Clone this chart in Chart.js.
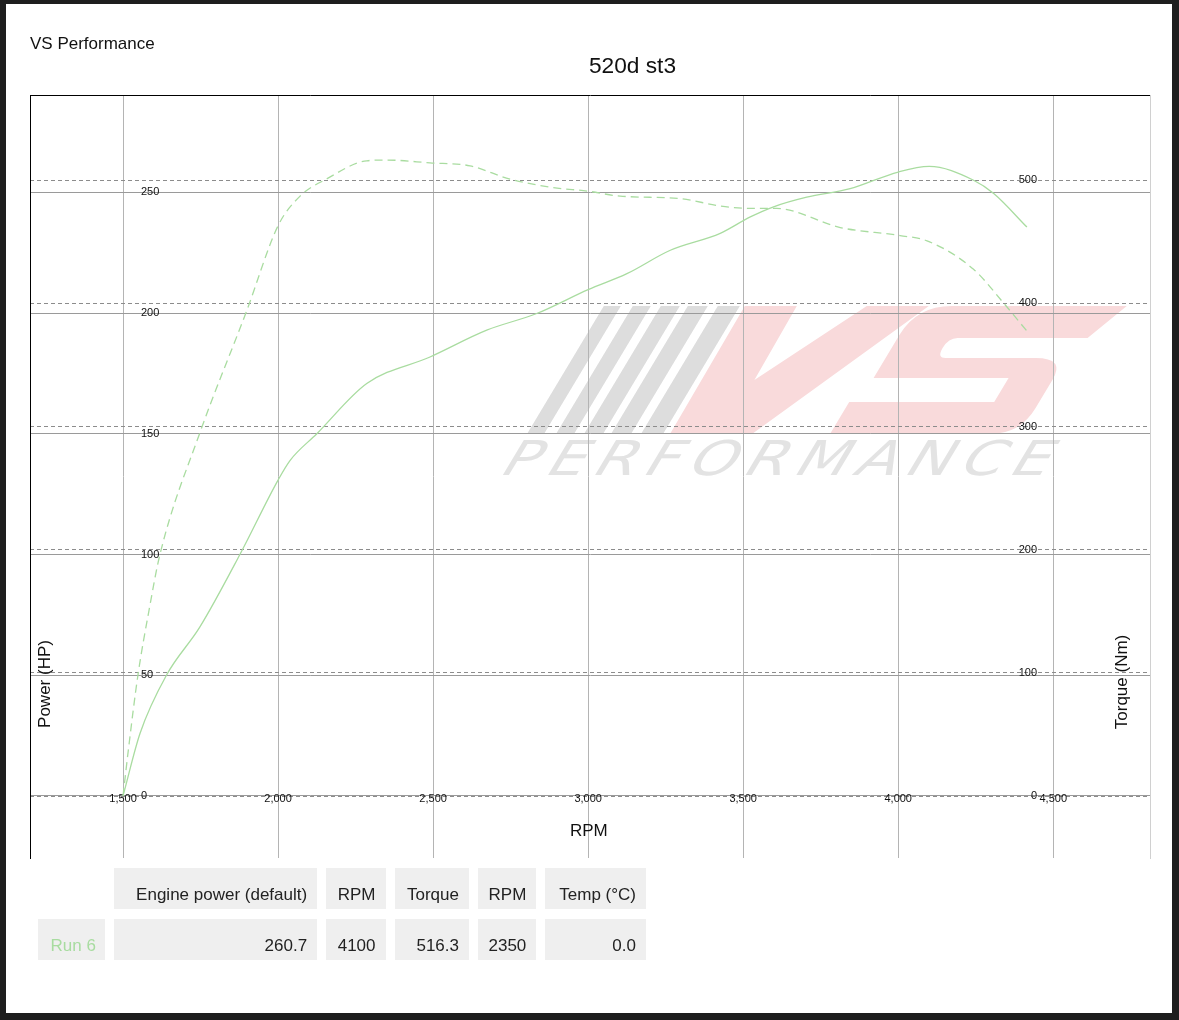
<!DOCTYPE html>
<html lang="en">
<head>
  <meta charset="UTF-8" />
  <title>520d st3 - VS Performance</title>
  <script src="https://cdn.jsdelivr.net/npm/chart.js"></script>
  <style>
    html, body {
      margin: 0;
      padding: 0;
      width: 1179px;
      height: 1020px;
      background-color: #1e1e1e;
      overflow: hidden;
      font-family: 'Liberation Sans', Arial, sans-serif;
      color: #111;
    }

    #page {
      position: absolute;
      left: 6px;
      top: 4px;
      width: 1166px;
      height: 1009px;
      background: #fff;
    }

    #chartBox {
      position: absolute;
      left: 0;
      top: 0;
      width: 1179px;
      height: 870px;
    }

    .txt {
      position: absolute;
      font-size: 17px;
      line-height: 20px;
      white-space: nowrap;
    }

    #brand { left: 30px; top: 33.5px; }
    #title { left: 589px; top: 51.6px; font-size: 22.7px; line-height: 26px; }
    #xTitle { left: 570px; top: 820.5px; }
    .vtitle { width: 120px; height: 20px; text-align: center; transform: rotate(-90deg); }
    #yTitle { left: -14.7px; top: 673.5px; }
    #y1Title { left: 1061.5px; top: 672px; }

    table {
      position: absolute;
      left: 28.5px;
      top: 858px;
      border-collapse: separate;
      border-spacing: 9.5px 10px;
      table-layout: fixed;
      width: 626.5px;
      font-size: 17px;
      color: #222;
    }

    td {
      background: #efefef;
      text-align: right;
      padding: 17px 10px 4px 10px;
      line-height: 20px;
      white-space: nowrap;
    }

    td.blank { background: transparent; }
    td.run { color: #a8dca0; padding-right: 9px; }
  </style>
</head>
<body>

  <div id="page"></div>

  <div id="chartBox">
    <canvas id="dynoChart"></canvas>
  </div>

  <div class="txt" id="brand">VS Performance</div>
  <div class="txt" id="title">520d st3</div>
  <div class="txt" id="xTitle">RPM</div>
  <div class="txt vtitle" id="yTitle">Power (HP)</div>
  <div class="txt vtitle" id="y1Title">Torque (Nm)</div>

  <table>
    <tr>
      <td class="blank" style="width:47px"></td>
      <td style="width:182px">Engine power (default)</td>
      <td style="width:39px">RPM</td>
      <td style="width:54px">Torque</td>
      <td style="width:38px">RPM</td>
      <td style="width:80px">Temp (°C)</td>
    </tr>
    <tr>
      <td class="run">Run 6</td>
      <td>260.7</td>
      <td>4100</td>
      <td>516.3</td>
      <td>2350</td>
      <td>0.0</td>
    </tr>
  </table>

  <script>
    // tick positions
    const rpmTicks = [1500, 2000, 2500, 3000, 3500, 4000, 4500];
    const powerTicks = [0, 50, 100, 150, 200, 250];
    const torqueTicks = [0, 100, 200, 300, 400, 500];

    // Run 6 - engine power (HP), solid line
    const powerRpm = [1500, 1555, 1640, 1748, 1877, 2000, 2039, 2125, 2286, 2490, 2673, 2834,
                      3000, 3125, 3265, 3426, 3523, 3598, 3705, 3845, 4000, 4100, 4243, 4308, 4415];
    const powerHp = [0, 26, 50, 70, 100, 130.8, 139, 150, 170.8, 181.8, 192.9, 199.8,
                     209.7, 216.3, 226, 233, 239.8, 244, 248, 251.5, 258.4, 260.7, 255, 249.5, 235.6];

    // Run 6 - torque (Nm), dashed line
    const torqueRpm = [1500, 1517, 1548, 1584, 1619, 1748, 1899, 2000, 2071, 2157, 2286, 2350,
                       2490, 2619, 2748, 2887, 3000, 3103, 3297, 3426, 3523, 3608, 3813, 4006, 4093,
                       4243, 4339, 4415];
    const torqueNm = [0, 37, 98, 151, 196, 295, 394, 463, 487, 501, 515.7, 516.3,
                      514, 511.6, 500.8, 494, 491, 487, 485, 479, 477, 477, 461.5, 455, 450.7,
                      427.6, 400.5, 377.5];

    const lineGreen = '#a9dca0';

    Chart.defaults.font.family = "'Liberation Sans', Arial, sans-serif";
    Chart.defaults.font.size = 11;
    Chart.defaults.color = '#111';

    // faint company logo behind the grid
    const watermark = {
      id: 'watermark',
      beforeDraw(chart) {
        const ctx = chart.ctx;
        const k = 0.6; // slant
        ctx.save();

        // stripes + VS, slanted around the logo baseline
        ctx.setTransform(1, 0, -k, 1, k * 434, 0);
        ctx.fillStyle = '#dddddd';
        [[527, 17], [556, 18], [584, 19], [611, 20], [641, 22]].forEach(([u, w]) => {
          ctx.fillRect(u, 306, w, 128);
        });

        ctx.fillStyle = '#f9dadb';
        ctx.beginPath();
        ctx.moveTo(670, 434);
        ctx.lineTo(668, 306);
        ctx.lineTo(720, 306);
        ctx.lineTo(722, 380);
        ctx.lineTo(790, 306);
        ctx.lineTo(852, 306);
        ctx.lineTo(752, 434);
        ctx.closePath();
        ctx.fill();

        ctx.beginPath();
        ctx.moveTo(1050, 306);
        ctx.lineTo(875, 306);
        ctx.quadraticCurveTo(840, 306, 840, 335);
        ctx.lineTo(840, 378);
        ctx.lineTo(975, 378);
        ctx.lineTo(975, 402);
        ctx.lineTo(830, 402);
        ctx.lineTo(830, 434);
        ctx.lineTo(990, 434);
        ctx.quadraticCurveTo(1020, 434, 1020, 408);
        ctx.lineTo(1020, 380);
        ctx.quadraticCurveTo(1020, 358, 990, 358);
        ctx.lineTo(900, 358);
        ctx.quadraticCurveTo(891, 358, 891, 348);
        ctx.quadraticCurveTo(891, 338, 900, 338);
        ctx.lineTo(1030, 338);
        ctx.closePath();
        ctx.fill();

        // PERFORMANCE
        ctx.setTransform(1, 0, -k, 1, k * 475, 0);
        ctx.fillStyle = '#e3e3e3';
        ctx.font = '48px "DejaVu Sans"';
        ctx.textBaseline = 'alphabetic';
        const word = 'PERFORMANCE';
        const sx = 1.25;
        const widths = [...word].map(c => ctx.measureText(c).width * sx);
        const total = widths.reduce((a, b) => a + b, 0);
        const gap = (547 - total) / (word.length - 1);
        let u = 497;
        [...word].forEach((c, i) => {
          ctx.save();
          ctx.translate(u, 475);
          ctx.scale(sx, 1);
          ctx.fillText(c, 0, 0);
          ctx.restore();
          u += widths[i] + gap;
        });

        ctx.restore();
      }
    };

    const fixedTicks = list => scale => { scale.ticks = list.map(v => ({ value: v })); };

    const ctx = document.getElementById('dynoChart').getContext('2d');
    const chart = new Chart(ctx, {
      type: 'line',
      data: {
        datasets: [
          {
            label: 'Power (HP)',
            data: powerRpm.map((r, i) => ({ x: r, y: powerHp[i] })),
            yAxisID: 'y',
            borderColor: lineGreen,
            borderWidth: 1.3,
            pointRadius: 0,
            fill: false,
            cubicInterpolationMode: 'monotone'
          },
          {
            label: 'Torque (Nm)',
            data: torqueRpm.map((r, i) => ({ x: r, y: torqueNm[i] })),
            yAxisID: 'y1',
            borderColor: lineGreen,
            borderWidth: 1.3,
            borderDash: [8, 5],
            pointRadius: 0,
            fill: false,
            cubicInterpolationMode: 'monotone'
          }
        ]
      },
      options: {
        responsive: true,
        maintainAspectRatio: false,
        animation: false,
        layout: { padding: { left: 30, top: 95, right: 29, bottom: 12 } },
        plugins: {
          legend: { display: false },
          tooltip: { enabled: false }
        },
        scales: {
          x: {
            type: 'linear',
            position: 'bottom',
            min: 1200,
            max: 4812,
            afterBuildTicks: fixedTicks(rpmTicks),
            afterFit: s => { s.height = 0; s.paddingLeft = 0; s.paddingRight = 0; },
            grid: { color: '#b4b4b4', drawTicks: false },
            border: { display: false },
            ticks: { mirror: true, padding: 52, maxRotation: 0, autoSkip: false }
          },
          xTop: {
            type: 'linear',
            position: 'top',
            min: 1200,
            max: 4812,
            afterFit: s => { s.height = 0; s.paddingLeft = 0; s.paddingRight = 0; },
            grid: { drawOnChartArea: false, drawTicks: false },
            border: { color: '#000', width: 1 },
            ticks: { display: false }
          },
          y: {
            type: 'linear',
            position: 'left',
            min: -25.7,
            max: 290.3,
            afterBuildTicks: fixedTicks(powerTicks),
            afterFit: s => { s.width = 0; s.paddingTop = 0; s.paddingBottom = 0; },
            grid: { color: '#9a9a9a', drawTicks: false },
            border: { color: '#000', width: 1 },
            ticks: { mirror: true, padding: 111, autoSkip: false }
          },
          y1: {
            type: 'linear',
            position: 'right',
            min: -50.3,
            max: 569.1,
            afterBuildTicks: fixedTicks(torqueTicks),
            afterFit: s => { s.width = 0; s.paddingTop = 0; s.paddingBottom = 0; },
            grid: { color: '#8c8c8c', drawTicks: false },
            border: { color: '#d0d0d0', width: 1, dash: [4, 3] },
            ticks: { mirror: true, padding: -113, autoSkip: false }
          }
        }
      },
      plugins: [watermark]
    });
  </script>

</body>
</html>
